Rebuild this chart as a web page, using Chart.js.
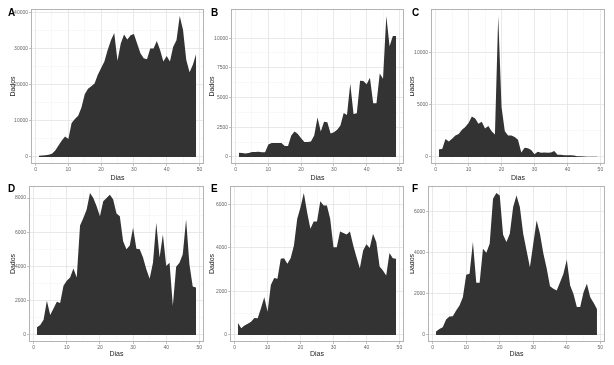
<!DOCTYPE html>
<html lang="pt">
<head>
<meta charset="UTF-8">
<title>Dados por dia</title>
<script src="https://cdn.jsdelivr.net/npm/chart.js"></script>
<style>
  body { margin: 0; background: #fff; }
  #wrap { position: relative; width: 614px; height: 365px; overflow: hidden; }
  canvas { position: absolute; }
  .tag { position: absolute; font: bold 10px "Liberation Sans", Arial, sans-serif; color: #000; }
</style>
</head>
<body>
<div id="wrap"></div>

<script>
// days on the x axis
const dias = [1,2,3,4,5,6,7,8,9,10,11,12,13,14,15,16,17,18,19,20,21,22,23,24,25,
  26,27,28,29,30,31,32,33,34,35,36,37,38,39,40,41,42,43,44,45,46,47,48,49];

// series, one per panel
const dadosA = [300,400,500,600,900,1800,3200,4600,5700,5000,9400,10500,11400,13700,17400,18900,
  19600,20400,22800,24700,26500,29700,32400,34400,26700,31500,34000,32600,33800,34100,31500,28800,
  27400,27100,30100,30100,32200,29700,26500,28000,26500,30600,32400,39100,35200,26900,23500,25600,28600];
const dadosB = [360,330,300,330,420,420,440,390,390,1050,1170,1170,1170,1170,920,920,1800,2140,1940,
  1580,1250,1250,1300,1800,3330,2140,2970,2920,1970,2080,2280,2640,3690,3530,6170,3610,3670,6420,
  6390,6110,6670,4530,4530,7030,6580,11860,9310,10190,10190];
const dadosC = [730,760,1720,1490,1750,2050,2210,2610,2870,3270,3890,3700,3200,3370,2740,2970,2480,
  2150,13530,4790,2480,2050,2050,1910,1650,430,890,830,660,260,500,400,430,400,430,560,200,200,170,
  170,170,130,70,60,40,30,30,30,30];
const dadosD = [450,580,890,2000,1160,1550,1940,1860,2870,3160,3350,3880,3350,6400,6840,7330,8290,
  8000,7520,6940,7810,8000,8200,7910,7090,6940,5480,5000,5230,6260,5040,5000,4520,3840,3290,4220,
  6550,4520,5870,4030,4220,1710,3990,4220,4710,6740,4130,2830,2770];
const dadosE = [550,310,430,510,610,780,770,1230,1730,1070,2300,2620,2580,3500,3530,3270,3530,4110,
  5340,5870,6520,5640,4880,5210,5210,6150,5950,5950,5340,4030,4030,4750,4690,4620,4750,4110,3570,
  3070,3880,4170,3990,4650,4260,3140,2960,2730,3760,3530,3500];
const dadosF = [160,290,370,750,890,910,1180,1430,1830,2920,2970,4510,2530,2530,4180,3990,4430,6610,
  6890,6770,4860,4510,4910,6210,6770,6210,4910,4100,3290,4430,5560,4910,3970,3240,2370,2240,2160,
  2560,2970,3650,2400,1990,1350,1350,2070,2480,1830,1560,1260];

// tick labels
const xTicks = [0, 10, 20, 30, 40, 50];
const yTicksA = [0, 10000, 20000, 30000, 40000];
const yTicksB = [0, 2500, 5000, 7500, 10000];
const yTicksC = [0, 5000, 10000];
const yTicksD = [0, 2000, 4000, 6000, 8000];
const yTicksE = [0, 2000, 4000, 6000];
const yTicksF = [0, 2000, 4000, 6000];

const FONT = '"Liberation Sans", Arial, sans-serif';

// with minor lines halfway between the majors, like ggplot
function withMinor(majors) {
  const out = [];
  for (let i = 0; i < majors.length; i++) {
    out.push(majors[i]);
    if (i < majors.length - 1) out.push((majors[i] + majors[i + 1]) / 2);
  }
  return out;
}

const frame = {
  id: 'frame',
  afterDraw(chart) {
    const a = chart.chartArea, c = chart.ctx;
    c.save();
    c.strokeStyle = '#b3b3b3';
    c.lineWidth = 1;
    c.strokeRect(Math.round(a.left) + 0.5, Math.round(a.top) + 0.5,
      Math.round(a.right - a.left) - 1, Math.round(a.bottom - a.top) - 1);
    c.restore();
  }
};

const panels = [
  { tag: 'A', data: dadosA, yt: yTicksA, left: 0,   top: 0,   w: 205, h: 182, yW: 31, padR: 1, padT: 9, xH: 18, padB: 0, tp: 9 },
  { tag: 'B', data: dadosB, yt: yTicksB, left: 205, top: 0,   w: 205, h: 182, yW: 26, padR: 6, padT: 9, xH: 18, padB: 0, tp: 3 },
  { tag: 'C', data: dadosC, yt: yTicksC, left: 410, top: 0,   w: 204, h: 182, yW: 21, padR: 9, padT: 9, xH: 18, padB: 0, tp: -2 },
  { tag: 'D', data: dadosD, yt: yTicksD, left: 0,   top: 182, w: 205, h: 183, yW: 29, padR: 1, padT: 4, xH: 16, padB: 7, tp: 9 },
  { tag: 'E', data: dadosE, yt: yTicksE, left: 205, top: 182, w: 205, h: 183, yW: 25, padR: 6, padT: 4, xH: 16, padB: 7, tp: 3 },
  { tag: 'F', data: dadosF, yt: yTicksF, left: 410, top: 182, w: 204, h: 183, yW: 18, padR: 9, padT: 4, xH: 16, padB: 7, tp: -2 }
];

const wrap = document.getElementById('wrap');

panels.forEach(p => {
  const cv = document.createElement('canvas');
  cv.width = p.w; cv.height = p.h;
  cv.style.left = p.left + 'px'; cv.style.top = p.top + 'px';
  cv.style.width = p.w + 'px'; cv.style.height = p.h + 'px';
  wrap.appendChild(cv);

  const lab = document.createElement('div');
  lab.className = 'tag';
  lab.textContent = p.tag;
  lab.style.left = (p.left + (p.tp < 0 ? 2 : (p.tp < 5 ? 6 : 8))) + 'px';
  lab.style.top = (p.top + (p.top ? 1 : 7)) + 'px';
  wrap.appendChild(lab);

  const ymax = Math.max(...p.data);
  const xAll = withMinor(xTicks);
  const yAll = withMinor(p.yt);

  const gridOpts = majors => ({
    color: c => majors.includes(c.tick.value) ? '#e3e3e3' : '#f1f1f1',
    lineWidth: c => majors.includes(c.tick.value) ? 0.8 : 0.5,
    tickColor: c => majors.includes(c.tick.value) ? '#b3b3b3' : 'rgba(0,0,0,0)',
    tickLength: 2,
    drawTicks: true
  });

  new Chart(cv.getContext('2d'), {
    type: 'line',
    data: {
      datasets: [{
        data: dias.map((d, i) => ({ x: d, y: p.data[i] })),
        fill: 'origin',
        backgroundColor: '#333333',
        borderWidth: 0,
        pointRadius: 0,
        tension: 0
      }]
    },
    options: {
      responsive: false,
      animation: false,
      layout: { padding: { top: p.padT, right: p.padR, bottom: p.padB, left: 0 } },
      plugins: { legend: { display: false }, tooltip: { enabled: false } },
      scales: {
        x: {
          type: 'linear',
          min: -1.4,
          max: 51.4,
          afterBuildTicks: s => { s.ticks = xAll.map(v => ({ value: v })); },
          afterFit: s => { s.height = p.xH; },
          ticks: {
            autoSkip: false, maxRotation: 0, padding: 1,
            font: { family: FONT, size: 5 }, color: '#666',
            callback: v => xTicks.includes(v) ? String(v) : ''
          },
          grid: gridOpts(xTicks),
          border: { display: false },
          title: { display: true, text: 'Dias', color: '#222', font: { family: FONT, size: 7 }, padding: { top: 0, bottom: 0 } }
        },
        y: {
          min: -0.05 * ymax,
          max: 1.05 * ymax,
          afterBuildTicks: s => { s.ticks = yAll.map(v => ({ value: v })); },
          afterFit: s => { s.width = p.yW; },
          ticks: {
            autoSkip: false, padding: 1,
            font: { family: FONT, size: 5 }, color: '#666',
            callback: v => p.yt.includes(v) ? String(v) : ''
          },
          grid: gridOpts(p.yt),
          border: { display: false },
          title: { display: true, text: 'Dados', color: '#222', font: { family: FONT, size: 7 }, padding: { top: p.tp, bottom: 0 } }
        }
      }
    },
    plugins: [frame]
  });
});
</script>
</body>
</html>
